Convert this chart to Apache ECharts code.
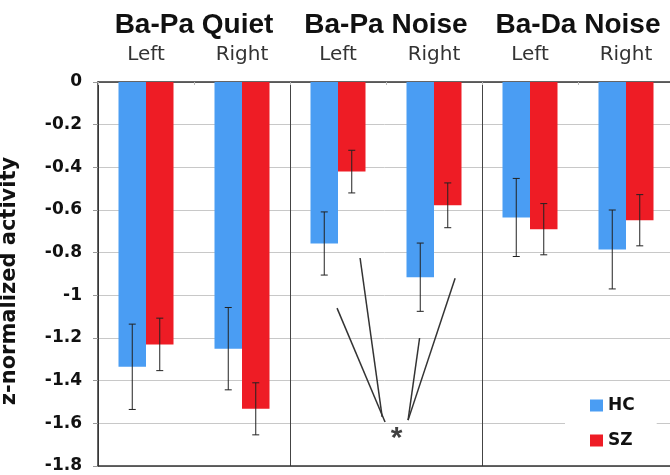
<!DOCTYPE html>
<html>
<head>
<meta charset="utf-8">
<script src="https://cdn.jsdelivr.net/npm/echarts@6/dist/echarts.min.js"></script>
<style>html,body{margin:0;padding:0;background:#fff}#c{width:670px;height:475px}</style>
</head>
<body>
<div id="c"></div>
<script>
// ---- data ----
var groups = ['Ba-Pa Quiet', 'Ba-Pa Noise', 'Ba-Da Noise'];
var sides = ['Left', 'Right', 'Left', 'Right', 'Left', 'Right'];
var seriesNames = ['HC', 'SZ'];
var hcMean = [-1.335, -1.25, -0.757, -0.915, -0.635, -0.785];
var hcErr  = [0.2, 0.193, 0.148, 0.16, 0.183, 0.185];
var szMean = [-1.23, -1.532, -0.42, -0.578, -0.69, -0.648];
var szErr  = [0.123, 0.122, 0.1, 0.105, 0.12, 0.12];
var yTicks = [0, -0.2, -0.4, -0.6, -0.8, -1, -1.2, -1.4, -1.6, -1.8];
// annotation lines (x in category units 0..6, y in data units)
var annotLines = [
  [[2.49, -1.06], [2.99, -1.594]],
  [[2.73, -0.825], [2.96, -1.57]],
  [[3.35, -1.20], [3.23, -1.585]],
  [[3.72, -0.92], [3.23, -1.585]]
];
var starPoint = [3.10, -1.646];

var HC_COLOR = '#4a9df3', SZ_COLOR = '#ee1c25';
var BAR_W = 27.5;

function errData(mean, err) {
  return mean.map(function (m, i) { return [i, m - err[i], m + err[i]]; });
}
function errRender(offset) {
  return function (params, api) {
    var i = api.value(0);
    var p1 = api.coord([i, api.value(1)]);
    var p2 = api.coord([i, api.value(2)]);
    var x = p1[0] + offset, c = 3.5;
    var st = { stroke: '#222', lineWidth: 1 };
    return { type: 'group', children: [
      { type: 'line', shape: { x1: x, y1: p1[1], x2: x, y2: p2[1] }, style: st },
      { type: 'line', shape: { x1: x - c, y1: p1[1], x2: x + c, y2: p1[1] }, style: st },
      { type: 'line', shape: { x1: x - c, y1: p2[1], x2: x + c, y2: p2[1] }, style: st }
    ]};
  };
}

var chart = echarts.init(document.getElementById('c'), null, { renderer: 'canvas' });
chart.setOption({
  animation: false,
  backgroundColor: '#fff',
  grid: { left: 98, right: -4, top: 82, bottom: 9, containLabel: false, outerBoundsMode: 'none' },
  legend: {
    data: seriesNames, orient: 'vertical', left: 565, top: 389,
    icon: 'rect', itemWidth: 13, itemHeight: 12, itemGap: 18,
    backgroundColor: '#fff', padding: [8, 22, 8, 25],
    textStyle: { fontFamily: 'DejaVu Sans', fontWeight: 'bold', fontSize: 17, color: '#111', lineHeight: 12 }
  },
  xAxis: [
    { type: 'category', data: sides, position: 'top',
      axisLine: { show: true, lineStyle: { color: '#333', width: 1.5 } },
      axisTick: { show: true, inside: true, length: 3, interval: 0, lineStyle: { color: '#bbb' } },
      axisLabel: { interval: 0, margin: 17, fontFamily: 'DejaVu Sans', fontSize: 20, color: '#333', lineHeight: 20 },
      splitLine: { show: false } },
    { type: 'category', data: groups, position: 'top',
      axisLine: { show: false }, axisTick: { show: false, interval: 0 },
      axisLabel: { interval: 0, margin: 43, fontFamily: 'Liberation Sans', fontWeight: 'bold', fontSize: 28, color: '#111', lineHeight: 28 },
      splitLine: { show: true, interval: 0, lineStyle: { color: '#444', width: 1 } } },
    { type: 'value', min: 0, max: 6, position: 'bottom',
      axisLine: { show: true, lineStyle: { color: '#333', width: 1.5 } },
      axisTick: { show: false }, axisLabel: { show: false }, splitLine: { show: false } }
  ],
  yAxis: {
    type: 'value', min: -1.8, max: 0, interval: 0.2,
    name: 'z-normalized activity', nameLocation: 'middle', nameRotate: 90, nameGap: 78,
    nameTextStyle: { fontFamily: 'DejaVu Sans', fontWeight: 'bold', fontSize: 21, color: '#111', padding: [0, 14, 0, 0] },
    axisLine: { show: true, lineStyle: { color: '#333', width: 1.5 } },
    axisTick: { show: true, length: 5, lineStyle: { color: '#999' } },
    axisLabel: { margin: 16, fontFamily: 'DejaVu Sans', fontWeight: 'bold', fontSize: 17, color: '#111',
      formatter: function (v) { var r = Math.round(v * 10) / 10; return yTicks.indexOf(r) >= 0 ? String(r) : ''; } },
    splitLine: { show: true, lineStyle: { color: '#c8c8c8', width: 1 } }
  },
  series: [
    { name: 'HC', type: 'bar', xAxisIndex: 0, data: hcMean, barWidth: BAR_W, barGap: '0%', itemStyle: { color: HC_COLOR } },
    { name: 'SZ', type: 'bar', xAxisIndex: 0, data: szMean, barWidth: BAR_W, barGap: '0%', itemStyle: { color: SZ_COLOR } },
    { type: 'custom', xAxisIndex: 0, renderItem: errRender(-BAR_W / 2), data: errData(hcMean, hcErr), z: 5, encode: { x: 0, y: [1, 2] } },
    { type: 'custom', xAxisIndex: 0, renderItem: errRender(BAR_W / 2), data: errData(szMean, szErr), z: 5, encode: { x: 0, y: [1, 2] } },
    { type: 'lines', coordinateSystem: 'cartesian2d', xAxisIndex: 2, yAxisIndex: 0, z: 6,
      lineStyle: { color: '#333', width: 1.5, opacity: 1, curveness: 0 },
      data: annotLines.map(function (c) { return { coords: c }; }) },
    { type: 'scatter', xAxisIndex: 2, yAxisIndex: 0, z: 6, symbolSize: 1, itemStyle: { color: 'rgba(0,0,0,0)' },
      data: [starPoint],
      label: { show: true, position: 'inside', formatter: '*', offset: [1, 6], fontFamily: 'Liberation Sans', fontWeight: 'bold', fontSize: 30, color: '#111' } }
  ]
});
</script>
</body>
</html>
